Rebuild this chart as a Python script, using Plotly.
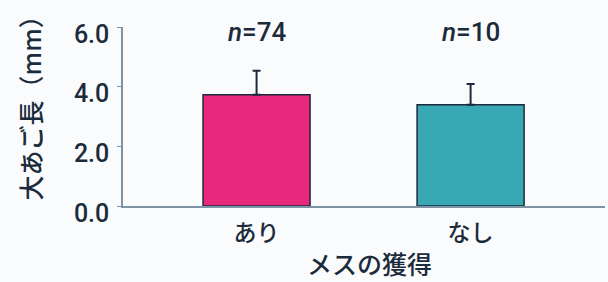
import plotly.graph_objects as go

categories = ["あり", "なし"]
means = [3.73, 3.39]
errors = [0.80, 0.70]
n_labels = ["<i>n</i>=74", "<i>n</i>=10"]
bar_colors = ["#e8287c", "#38a9b4"]
y_ticks = [0, 2, 4, 6]
y_ticktext = ["0.0", "2.0", "4.0", "6.0"]

TXT = "#1c2b3b"
AX = "#7f93a6"
BG = "#fafbfd"
LAT = "Roboto, Liberation Sans, Arial, sans-serif"
CJK = "Noto Sans CJK JP, sans-serif"

fig = go.Figure()
fig.add_trace(go.Bar(
    x=categories, y=means, width=0.5,
    marker=dict(color=bar_colors, line=dict(color=TXT, width=1.5)),
    error_y=dict(type="data", symmetric=False, array=errors, arrayminus=[0, 0],
                 color=TXT, thickness=2, width=4),
    showlegend=False, hoverinfo="skip",
))

for c, t in zip(categories, n_labels):
    fig.add_annotation(x=c, y=0.972, xref="x", yref="paper", text=t, showarrow=False,
                       font=dict(family=LAT, size=26, color=TXT, weight=500),
                       xanchor="center", yanchor="middle")

fig.add_annotation(x=-0.193, y=0.584, xref="paper", yref="paper", text="大あご長（mm）",
                   textangle=-90, showarrow=False,
                   font=dict(family=CJK, size=25, color=TXT, weight=500),
                   xanchor="center", yanchor="middle")
fig.add_annotation(x=0.511, y=-0.318, xref="paper", yref="paper", text="メスの獲得",
                   showarrow=False, font=dict(family=CJK, size=25, color=TXT, weight=500),
                   xanchor="center", yanchor="middle")

fig.update_layout(
    width=608, height=282,
    margin=dict(l=123, r=3, t=27, b=76),
    paper_bgcolor=BG, plot_bgcolor=BG,
    xaxis=dict(type="category", range=[-0.624, 1.628], showline=True, linecolor=AX, linewidth=1.5,
               ticks="", showgrid=False, zeroline=False,
               tickfont=dict(family=CJK, size=23, color=TXT, weight=500), ticklabelstandoff=6),
    yaxis=dict(range=[0, 6], tickvals=y_ticks, ticktext=y_ticktext, showline=True, linecolor=AX,
               linewidth=1.5, ticks="outside", ticklen=4, tickcolor=AX, showgrid=False, zeroline=False,
               tickfont=dict(family=LAT, size=25, color=TXT, weight=500),
               ticklabelshift=7, ticklabelstandoff=3),
)

fig.write_html("out.html", config={"displayModeBar": False},
               post_script="document.body.style.margin='0';document.body.style.background='%s';" % BG)
